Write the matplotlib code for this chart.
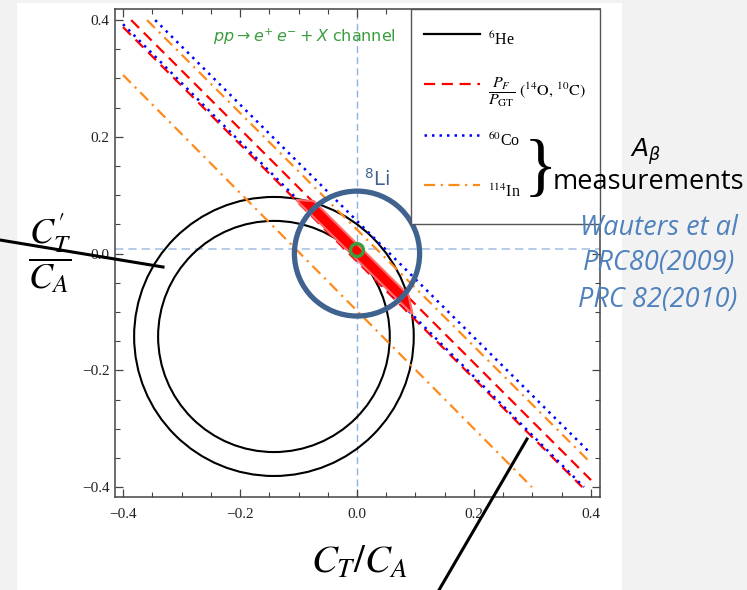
"""
Constraint plot C'_T/C_A vs C_T/C_A with beta-asymmetry bands.
"""

import matplotlib
matplotlib.use("Agg")
import matplotlib.pyplot as plt
import matplotlib.ticker as mticker
from matplotlib.lines import Line2D
from matplotlib.patches import Circle, Polygon, Rectangle

plt.rcParams.update({
    "font.family": ["Liberation Serif", "DejaVu Serif"],
    "font.size": 11,
    "mathtext.fontset": "stix",
    "axes.linewidth": 1.1,
    "axes.edgecolor": "#444444",
    "xtick.direction": "in",
    "ytick.direction": "in",
    "xtick.top": True,
    "ytick.right": True,
})

W, H = 747, 590

# ─── Data ──────────────────────────────────────────────────────────
# 6He circles (centre x, centre y, radius)
he6_cx = -0.142
he6_cy = -0.142
he6_r = [0.239, 0.198]

# P_F / P_GT band edges (red dashed)
red_a_x = [-0.400, 0.385]
red_a_y = [0.388, -0.400]
red_b_x = [-0.386, 0.400]
red_b_y = [0.400, -0.388]

# 60Co (blue dotted)
blue_a_x = [-0.400, 0.388]
blue_a_y = [0.393, -0.400]
blue_b_x = [-0.345, 0.400]
blue_b_y = [0.400, -0.343]

# 114In (orange dash-dot)
orange_a_x = [-0.400, 0.299]
orange_a_y = [0.306, -0.400]
orange_b_x = [-0.359, 0.400]
orange_b_y = [0.400, -0.359]

# allowed region (filled red)
band_x = [-0.104, -0.074, 0.088, 0.095]
band_y = [0.092, 0.090, -0.071, -0.104]

# 8Li point and highlight circle
li8_x, li8_y = 0.0, 0.006
li8_r = 0.011
ring_x, ring_y = 0.0, 0.0
ring_r = 0.107
zero_line_y = 0.007

ticks = [-0.4, -0.2, 0.0, 0.2, 0.4]
tick_labels = ["\u22120.4", "\u22120.2", "0.0", "0.2", "0.4"]

RED = "#ff0000"
BLUE = "#0000ff"
ORANGE = "#ff8a1c"
SLATE = "#40628e"
CITE = "#4f81bd"
GREEN = "#3a9e3e"


def fx(px):
    return px / W


def fy(py):
    return 1 - py / H


fig = plt.figure(figsize=(W / 100, H / 100), dpi=100, facecolor="#f2f2f2")
fig.add_artist(Rectangle((fx(17), 0), fx(622) - fx(17), fy(3),
                         transform=fig.transFigure, facecolor="white",
                         edgecolor="none", zorder=-10))

ax = fig.add_axes([fx(115), fy(497), fx(600) - fx(115), fy(9) - fy(497)])
ax.set_xlim(-0.4137, 0.4154)
ax.set_ylim(-0.417, 0.419)

# guide lines through origin
ax.axvline(0.0, color="#8fb2dc", ls=(0, (5, 3)), lw=1.0, zorder=1)
ax.axhline(zero_line_y, color="#a9c3e3", ls=(0, (5, 3)), lw=1.2, zorder=1)

# 6He circles
for r in he6_r:
    ax.add_patch(Circle((he6_cx, he6_cy), r, fill=False, ec="black",
                        lw=1.5, zorder=3))

red_ls = (0, (5, 3))
blue_ls = (0, (1, 2))
orange_ls = (0, (5, 2.5, 1, 2.5))
ax.plot(red_a_x, red_a_y, color=RED, ls=red_ls, lw=1.6, zorder=5)
ax.plot(red_b_x, red_b_y, color=RED, ls=red_ls, lw=1.6, zorder=5)
ax.plot(blue_a_x, blue_a_y, color=BLUE, ls=blue_ls, lw=1.8, zorder=5)
ax.plot(blue_b_x, blue_b_y, color=BLUE, ls=blue_ls, lw=1.8, zorder=5)
ax.plot(orange_a_x, orange_a_y, color=ORANGE, ls=orange_ls, lw=1.6, zorder=5)
ax.plot(orange_b_x, orange_b_y, color=ORANGE, ls=orange_ls, lw=1.6, zorder=5)

ax.add_patch(Polygon(list(zip(band_x, band_y)), closed=True,
                     facecolor=RED, edgecolor="#ff6a6a", lw=1.5,
                     zorder=5.5))

ax.add_patch(Circle((li8_x, li8_y), li8_r, fill=False, ec=GREEN,
                    lw=2.4, zorder=6))
ax.add_patch(Circle((ring_x, ring_y), ring_r, fill=False, ec=SLATE,
                    lw=3.8, zorder=7))
ax.text(0.012, 0.128, r"$^{8}$Li", color=SLATE, fontsize=14,
        family="DejaVu Sans", math_fontfamily="dejavusans",
        ha="left", va="center", zorder=8)

ax.text(-0.246, 0.371, r"$pp \rightarrow e^{+}\,e^{-} + X$ channel",
        color=GREEN, fontsize=11.5, family="DejaVu Sans",
        math_fontfamily="dejavusans", ha="left", va="center", zorder=8)

# ticks
ax.set_xticks(ticks)
ax.set_yticks(ticks)
ax.set_xticklabels(tick_labels)
ax.set_yticklabels(tick_labels)
ax.xaxis.set_minor_locator(mticker.MultipleLocator(0.05))
ax.yaxis.set_minor_locator(mticker.MultipleLocator(0.05))
ax.tick_params(which="major", length=6, width=0.9, color="#444444",
               labelsize=11, labelcolor="#222222")
ax.tick_params(which="minor", length=3.5, width=0.8, color="#444444")
ax.tick_params(axis="x", pad=8)
ax.tick_params(axis="y", pad=4)

# legend
handles = [
    Line2D([], [], color="black", lw=1.6),
    Line2D([], [], color=RED, ls=red_ls, lw=1.6),
    Line2D([], [], color=BLUE, ls=blue_ls, lw=1.8),
    Line2D([], [], color=ORANGE, ls=orange_ls, lw=1.6),
]
labels = [
    r"$^{6}$He",
    r"$\dfrac{P_F}{P_{\mathrm{GT}}}$ $(^{14}\mathrm{O},\,^{10}\mathrm{C})$",
    r"$^{60}$Co",
    r"$^{114}$In",
]
leg = ax.legend(handles, labels, loc="upper right", bbox_to_anchor=(1, 1),
                borderaxespad=0, frameon=True, fancybox=False,
                edgecolor="#555555", framealpha=1.0, handlelength=3.5,
                handleheight=3.13, labelspacing=0.875, borderpad=0.85,
                handletextpad=0.5, fontsize=11.5)
leg.get_frame().set_linewidth(1.0)
leg.set_zorder(9)

# slide annotations
fig.text(fx(540), fy(171), "}", fontsize=50, family="Liberation Serif",
         ha="center", va="center", color="black")
fig.text(fx(553), fy(182), "measurements", fontsize=19.5, family="Open Sans",
         ha="left", va="center", color="black")
fig.text(fx(646), fy(152), r"$A_\beta$", fontsize=18,
         math_fontfamily="dejavusans", ha="center", va="center")
for txt, x, y in [("Wauters et al", 738, 228), ("PRC80(2009)", 735, 263),
                  ("PRC 82(2010)", 737, 300)]:
    fig.text(fx(x), fy(y), txt, fontsize=19.5, family="Open Sans",
             style="italic", color=CITE, ha="right", va="center")

fig.text(fx(50), fy(253), r"$\dfrac{C^{\prime}_{T}}{C_A}$", fontsize=26,
         ha="center", va="center")
fig.text(fx(359), fy(563), r"$C_T/C_A$", fontsize=28,
         ha="center", va="center")

fig.add_artist(Line2D([fx(0), fx(163)], [fy(240), fy(267)],
                      transform=fig.transFigure, color="black", lw=2.2))
fig.add_artist(Line2D([fx(527), fx(439)], [fy(439), fy(590)],
                      transform=fig.transFigure, color="black", lw=2.2))

fig.savefig("out.png", dpi=100, facecolor=fig.get_facecolor())
